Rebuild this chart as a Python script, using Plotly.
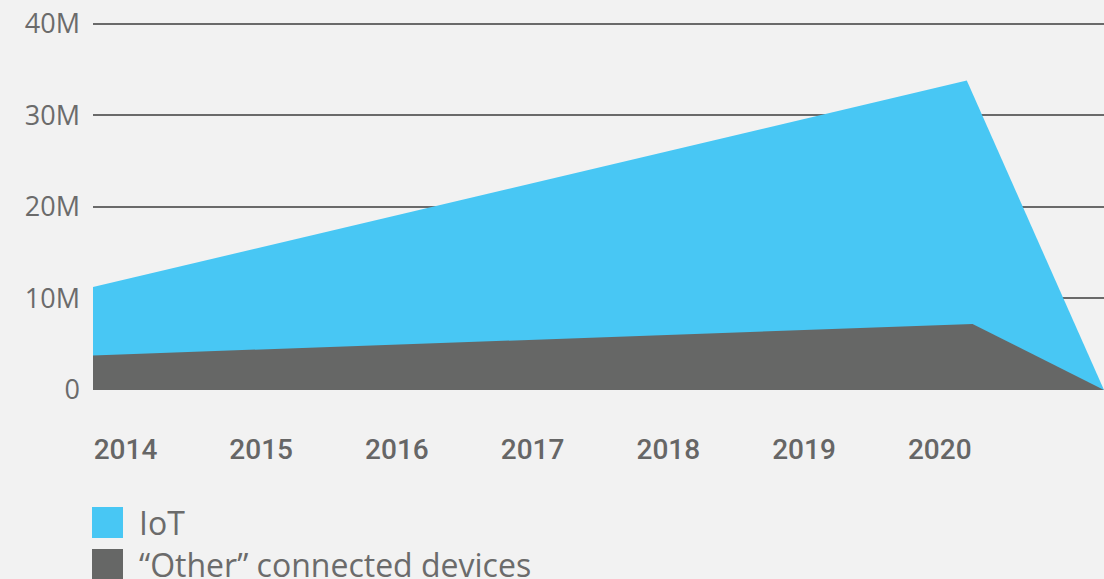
import plotly.graph_objects as go

# values (millions of devices)
IOT_X = [2014, 2020.05, 2021]
IOT_Y = [11.25e6, 33.8e6, 0]
OTHER_X = [2014, 2020.09, 2021]
OTHER_Y = [3.78e6, 7.2e6, 0]

YEAR_LABELS = ["2014", "2015", "2016", "2017", "2018", "2019", "2020"]
Y_TICKS = [0, 10e6, 20e6, 30e6, 40e6]

LEGEND_ITEMS = ["IoT", "\u201cOther\u201d connected devices"]

BG = "#f2f2f2"
BLUE = "#48c7f4"
GREY = "#666766"
TEXT = "#6b6b6b"

# label centres sit on their own spacing, not on the data's year scale
TICK_POS = [2014.225 + 0.9396 * i for i in range(len(YEAR_LABELS))]

fig = go.Figure()
fig.add_trace(go.Scatter(
    x=IOT_X, y=IOT_Y, name=LEGEND_ITEMS[0], mode="lines",
    line=dict(width=0, color=BLUE), fill="tozeroy", fillcolor=BLUE,
    hoverinfo="skip",
))
fig.add_trace(go.Scatter(
    x=OTHER_X, y=OTHER_Y, name=LEGEND_ITEMS[1], mode="lines",
    line=dict(width=0, color=GREY), fill="tozeroy", fillcolor=GREY,
    hoverinfo="skip",
))

# a touch of headroom so the 40M gridline is not swallowed by the edge
fig.update_layout(
    width=1104, height=579,
    margin=dict(l=93, r=0, t=22, b=189),
    paper_bgcolor=BG, plot_bgcolor=BG,
    showlegend=False,
    font=dict(family="Open Sans", color=TEXT),
)
fig.update_xaxes(
    range=[2014, 2021], showgrid=False, zeroline=False, showline=False,
    ticks="", tickvals=TICK_POS, ticktext=YEAR_LABELS,
    tickfont=dict(family="Roboto", size=28, color="#666666", weight=500),
    ticklabelstandoff=40,
)
fig.update_yaxes(
    range=[0, 40.2e6], tickvals=Y_TICKS, tickformat="~s",
    showgrid=True, gridcolor="#6a6a6a", gridwidth=1.5,
    zeroline=False, showline=False, ticks="",
    tickfont=dict(family="Open Sans", size=27, color=TEXT),
    ticklabelstandoff=12,
)

# hand-built legend: large squares with text beside them
plot_w, plot_h = 1011, 368
for i, (label, color) in enumerate(zip(LEGEND_ITEMS, [BLUE, GREY])):
    top = 507 + 42 * i
    fig.add_shape(
        type="rect", xref="paper", yref="paper", line=dict(width=0),
        fillcolor=color,
        x0=(92 - 93) / plot_w, x1=(123 - 93) / plot_w,
        y0=(390 - top) / plot_h, y1=(390 - top - 31) / plot_h,
    )
    fig.add_annotation(
        text=label, xref="paper", yref="paper", showarrow=False,
        x=(137 - 93) / plot_w, y=(390 - top - 15.5) / plot_h,
        xanchor="left", yanchor="middle",
        font=dict(family="Open Sans", size=32, color=TEXT),
    )

fig.write_html(
    "out.html",
    config={"displayModeBar": False},
    post_script="document.body.style.margin='0';",
)
